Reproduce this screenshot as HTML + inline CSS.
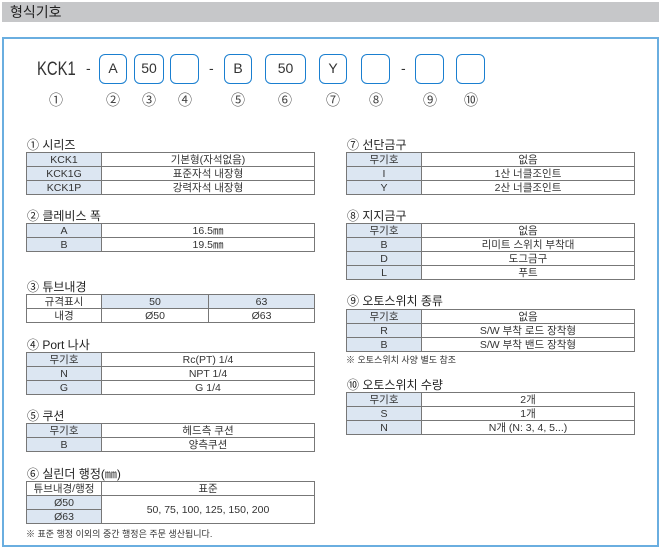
<!DOCTYPE html>
<html><head><meta charset="utf-8"><style>
*{margin:0;padding:0;box-sizing:border-box}
body{width:662px;height:551px;background:#fff;position:relative;overflow:hidden;font-family:"Liberation Sans","Noto Sans CJK KR",sans-serif;color:#333}
.hd{position:absolute;left:2px;top:2px;width:657px;height:20px;background:#c6c7c9;font-size:14px;line-height:20px;padding-left:8px;color:#222}
.fr{position:absolute;left:2px;top:37px;width:657px;height:510px;border:2px solid #6aaee0}
.a{position:absolute}
.bx{position:absolute;top:54px;height:30px;border:1.5px solid #1a7fd0;border-radius:6px;font-size:14px;line-height:27px;text-align:center;color:#333}
.dash{position:absolute;top:60px;font-size:14px}
.cn{position:absolute;top:90px;font-size:14px;color:#444;width:20px;text-align:center;margin-left:-10px}
.t{position:absolute;font-size:12px;color:#222}
table{position:absolute;border-collapse:collapse;font-size:10.5px;table-layout:fixed}
td{border:1px solid #777;height:14px;line-height:12px;text-align:center;padding:0;color:#333}
td.b{background:#dce6f2}
.n{position:absolute;font-size:9px;color:#333}
</style></head><body>
<div class="hd">형식기호</div>
<div class="fr"></div>
<div class="a" style="left:37px;top:59px;font-size:19px;color:#333;transform:scaleX(0.78);transform-origin:0 0">KCK1</div>
<div class="dash" style="left:86px">-</div>
<div class="bx" style="left:99px;width:28px">A</div>
<div class="bx" style="left:134px;width:30px">50</div>
<div class="bx" style="left:170px;width:29px"></div>
<div class="dash" style="left:209px">-</div>
<div class="bx" style="left:224px;width:28px">B</div>
<div class="bx" style="left:265px;width:41px">50</div>
<div class="bx" style="left:319px;width:28px">Y</div>
<div class="bx" style="left:361px;width:29px"></div>
<div class="dash" style="left:401px">-</div>
<div class="bx" style="left:415px;width:29px"></div>
<div class="bx" style="left:456px;width:29px"></div>
<div class="cn" style="left:56px">①</div>
<div class="cn" style="left:113px">②</div>
<div class="cn" style="left:149px">③</div>
<div class="cn" style="left:185px">④</div>
<div class="cn" style="left:238px">⑤</div>
<div class="cn" style="left:285px">⑥</div>
<div class="cn" style="left:333px">⑦</div>
<div class="cn" style="left:376px">⑧</div>
<div class="cn" style="left:430px">⑨</div>
<div class="cn" style="left:471px">⑩</div>

<div class="t" style="left:27px;top:136px">① 시리즈</div>
<table style="left:26px;top:152px;width:289px"><col style="width:75px"><col>
<tr><td class="b">KCK1</td><td>기본형(자석없음)</td></tr>
<tr><td class="b">KCK1G</td><td>표준자석 내장형</td></tr>
<tr><td class="b">KCK1P</td><td>강력자석 내장형</td></tr></table>

<div class="t" style="left:27px;top:207px">② 클레비스 폭</div>
<table style="left:26px;top:223px;width:289px"><col style="width:75px"><col>
<tr><td class="b">A</td><td>16.5㎜</td></tr>
<tr><td class="b">B</td><td>19.5㎜</td></tr></table>

<div class="t" style="left:27px;top:278px">③ 튜브내경</div>
<table style="left:26px;top:294px;width:289px"><col style="width:75px"><col style="width:107px"><col>
<tr><td>규격표시</td><td class="b">50</td><td class="b">63</td></tr>
<tr><td>내경</td><td>Ø50</td><td>Ø63</td></tr></table>

<div class="t" style="left:27px;top:336px">④ Port 나사</div>
<table style="left:26px;top:352px;width:289px"><col style="width:75px"><col>
<tr><td class="b">무기호</td><td>Rc(PT) 1/4</td></tr>
<tr><td class="b">N</td><td>NPT 1/4</td></tr>
<tr><td class="b">G</td><td>G 1/4</td></tr></table>

<div class="t" style="left:27px;top:407px">⑤ 쿠션</div>
<table style="left:26px;top:423px;width:289px"><col style="width:75px"><col>
<tr><td class="b">무기호</td><td>헤드측 쿠션</td></tr>
<tr><td class="b">B</td><td>양측쿠션</td></tr></table>

<div class="t" style="left:27px;top:465px">⑥ 실린더 행정(㎜)</div>
<table style="left:26px;top:481px;width:289px"><col style="width:75px"><col>
<tr><td>튜브내경/행정</td><td>표준</td></tr>
<tr><td class="b">Ø50</td><td rowspan="2">50, 75, 100, 125, 150, 200</td></tr>
<tr><td class="b">Ø63</td></tr></table>
<div class="n" style="left:26px;top:527px">※ 표준 행정 이외의 중간 행정은 주문 생산됩니다.</div>

<div class="t" style="left:347px;top:136px">⑦ 선단금구</div>
<table style="left:346px;top:152px;width:289px"><col style="width:75px"><col>
<tr><td class="b">무기호</td><td>없음</td></tr>
<tr><td class="b">I</td><td>1산 너클조인트</td></tr>
<tr><td class="b">Y</td><td>2산 너클조인트</td></tr></table>

<div class="t" style="left:347px;top:207px">⑧ 지지금구</div>
<table style="left:346px;top:223px;width:289px"><col style="width:75px"><col>
<tr><td class="b">무기호</td><td>없음</td></tr>
<tr><td class="b">B</td><td>리미트 스위치 부착대</td></tr>
<tr><td class="b">D</td><td>도그금구</td></tr>
<tr><td class="b">L</td><td>푸트</td></tr></table>

<div class="t" style="left:347px;top:292px">⑨ 오토스위치 종류</div>
<table style="left:346px;top:309px;width:289px"><col style="width:75px"><col>
<tr><td class="b">무기호</td><td>없음</td></tr>
<tr><td class="b">R</td><td>S/W 부착 로드 장착형</td></tr>
<tr><td class="b">B</td><td>S/W 부착 밴드 장착형</td></tr></table>
<div class="n" style="left:346px;top:353px">※ 오토스위치 사양 별도 참조</div>

<div class="t" style="left:347px;top:376px">⑩ 오토스위치 수량</div>
<table style="left:346px;top:392px;width:289px"><col style="width:75px"><col>
<tr><td class="b">무기호</td><td>2개</td></tr>
<tr><td class="b">S</td><td>1개</td></tr>
<tr><td class="b">N</td><td>N개 (N: 3, 4, 5...)</td></tr></table>
</body></html>
